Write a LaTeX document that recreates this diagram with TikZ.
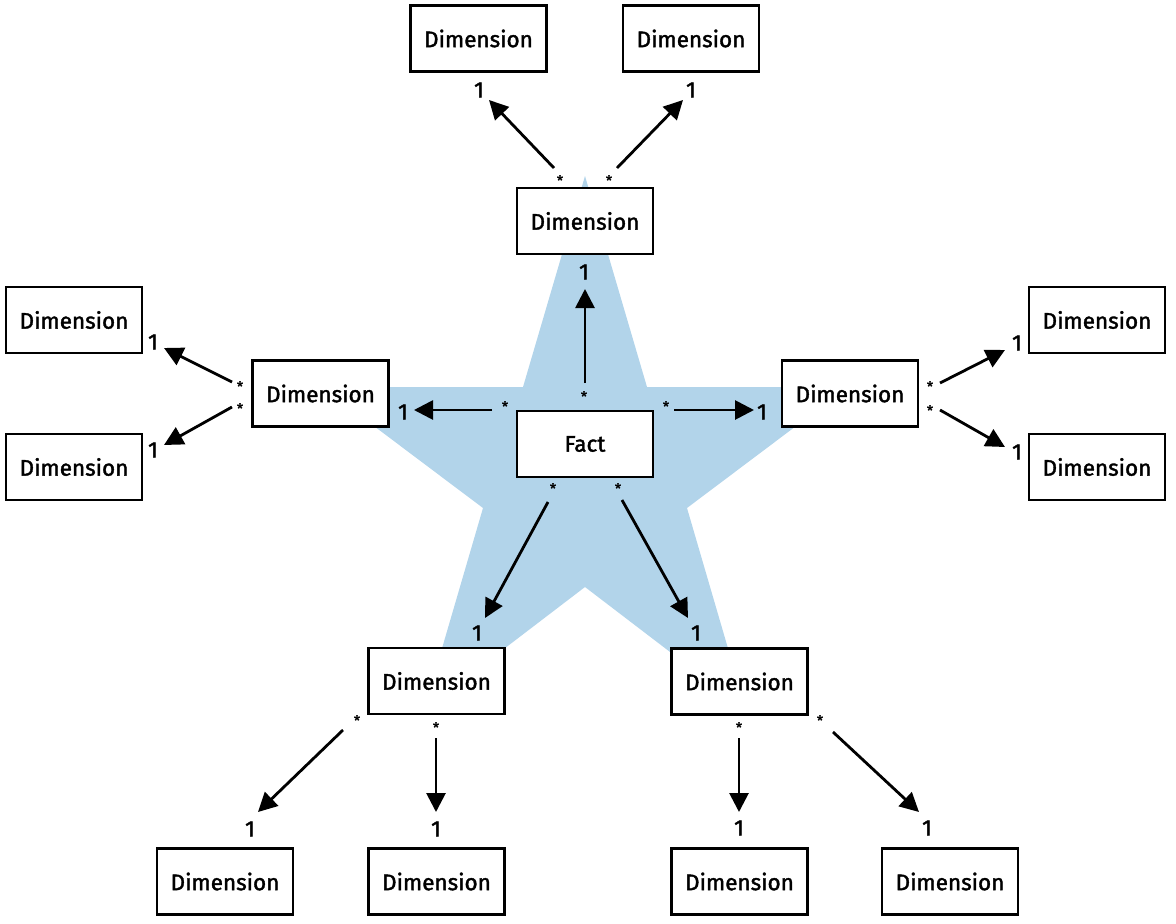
\documentclass[tikz,border=0pt]{standalone}
\usepackage{fontspec}
\setmainfont{Fira Sans}[FakeBold=1.6]
\newfontfamily\lblfont{Fira Sans}[FakeBold=1.6]
\usetikzlibrary{arrows.meta}
\definecolor{starblue}{RGB}{178,212,234}
\tikzset{
  box/.style={draw=black, line width=2.2pt, fill=white, minimum width=136pt, minimum height=66pt, inner sep=0pt, font=\lblfont\fontsize{22.5}{24}\selectfont},
  arr/.style={line width=2.8pt, -{Triangle[length=19pt,width=19pt]}},
  one/.style={inner sep=0pt, font=\lblfont\fontsize{22.5}{24}\selectfont},
  many/.style={inner sep=0pt, anchor=north, font=\lblfont\fontsize{14}{16}\selectfont}
}
\begin{document}
\begin{tikzpicture}[x=1pt,y=-1pt]
\useasboundingbox (0,0) rectangle (1176,924);
% star
\fill[starblue] (585,176) -- (647,387) -- (848,387) -- (687,508) -- (746,710) -- (585,587) -- (424,710) -- (483,508) -- (322,387) -- (523,387) -- cycle;
% boxes
\node[box] (fact) at (585,444) {Fact};
\node[box] (dtop) at (585,221) {Dimension};
\node[box] (dtl) at (478.5,38.5) {Dimension};
\node[box] (dtr) at (691,38.5) {Dimension};
\node[box] (dl) at (320.5,393.5) {Dimension};
\node[box] (dlt) at (74,320) {Dimension};
\node[box] (dlb) at (74,467) {Dimension};
\node[box] (dr) at (850,393.5) {Dimension};
\node[box] (drt) at (1097,320) {Dimension};
\node[box] (drb) at (1097,467) {Dimension};
\node[box] (dbl) at (436.5,681) {Dimension};
\node[box] (dbr) at (739.5,681.5) {Dimension};
\node[box] (dbll) at (225,881.5) {Dimension};
\node[box] (dblr) at (436.5,881.5) {Dimension};
\node[box] (dbrl) at (739.5,881.5) {Dimension};
\node[box] (dbrr) at (950,881.5) {Dimension};
% arrow end points
\coordinate (s1) at (585,383);   \coordinate (t1) at (585,289);
\coordinate (s2) at (492,410);   \coordinate (t2) at (414,410);
\coordinate (s3) at (674,410);   \coordinate (t3) at (754,410);
\coordinate (s4) at (548,502);   \coordinate (t4) at (485,618);
\coordinate (s5) at (622,500);   \coordinate (t5) at (688,618);
\coordinate (s6) at (554,168);   \coordinate (t6) at (489,100);
\coordinate (s7) at (617,168);   \coordinate (t7) at (683,100);
\coordinate (s8) at (232,382);   \coordinate (t8) at (164,348);
\coordinate (s9) at (232,407);   \coordinate (t9) at (164,445);
\coordinate (s10) at (940,383);  \coordinate (t10) at (1005,350);
\coordinate (s11) at (940,410);  \coordinate (t11) at (1005,447);
\coordinate (s12) at (343,730);  \coordinate (t12) at (258,812);
\coordinate (s13) at (436,738);  \coordinate (t13) at (436,812);
\coordinate (s14) at (739,738);  \coordinate (t14) at (739,812);
\coordinate (s15) at (833,732);  \coordinate (t15) at (919,812);
\foreach \i in {1,...,15} { \draw[arr] (s\i) -- (t\i); }
% multiplicity labels
\node[many] (m1) at (584,391) {*};  \node[one] (o1) at (584,272) {1};
\node[many] (m2) at (505,401) {*};  \node[one] (o2) at (403,412) {1};
\node[many] (m3) at (666,401) {*};  \node[one] (o3) at (762,412) {1};
\node[many] (m4) at (553,483) {*};  \node[one] (o4) at (477,633) {1};
\node[many] (m5) at (618,483) {*};  \node[one] (o5) at (696,633) {1};
\node[many] (m6) at (560,175) {*};  \node[one] (o6) at (479,90) {1};
\node[many] (m7) at (609,175) {*};  \node[one] (o7) at (691,90) {1};
\node[many] (m8) at (240,381) {*};  \node[one] (o8) at (153,342) {1};
\node[many] (m9) at (240,403) {*};  \node[one] (o9) at (153,450) {1};
\node[many] (m10) at (930,381) {*}; \node[one] (o10) at (1017,343) {1};
\node[many] (m11) at (930,405) {*}; \node[one] (o11) at (1017,452) {1};
\node[many] (m12) at (357,715) {*}; \node[one] (o12) at (250,829) {1};
\node[many] (m13) at (436,722) {*}; \node[one] (o13) at (436,829) {1};
\node[many] (m14) at (739,722) {*}; \node[one] (o14) at (739,828) {1};
\node[many] (m15) at (820,715) {*}; \node[one] (o15) at (927,828) {1};
\end{tikzpicture}
\end{document}
